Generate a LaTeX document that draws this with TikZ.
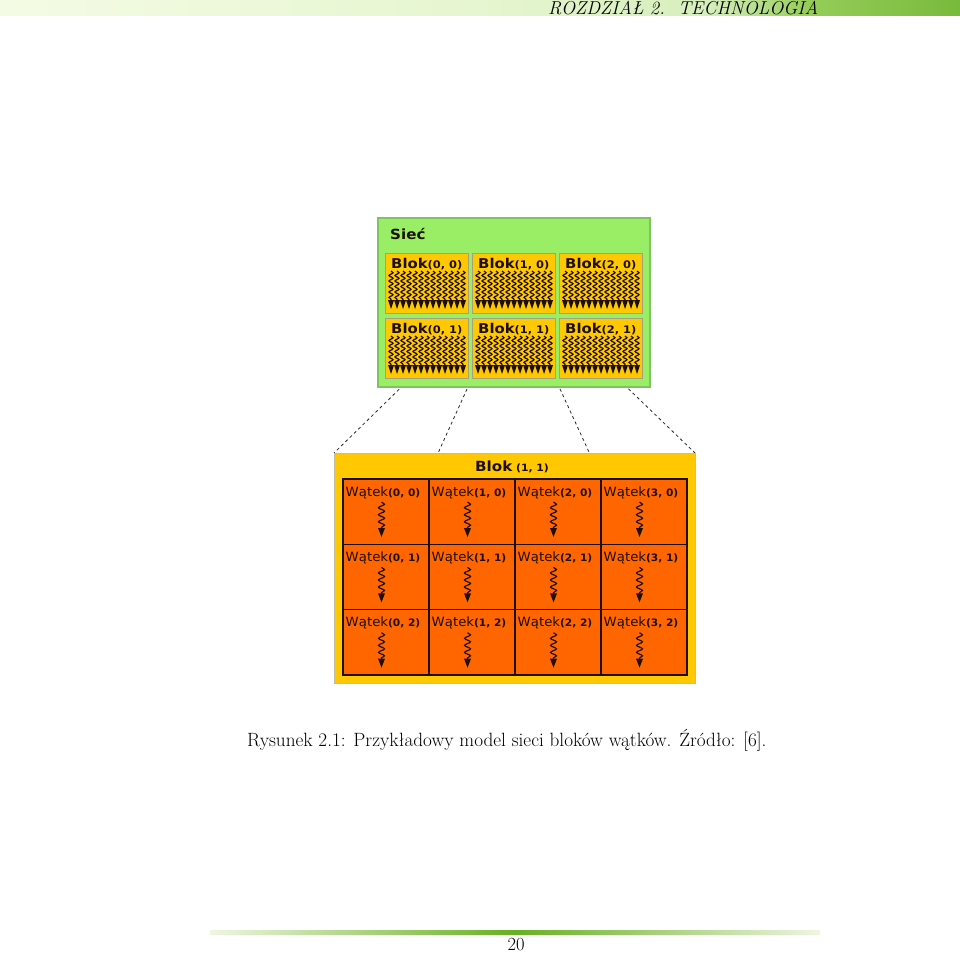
\documentclass[tikz,border=0pt]{standalone}
\usepackage{fontspec}
\newfontfamily\dvs{DejaVu Sans}
\usetikzlibrary{decorations.pathmorphing,calc}
\definecolor{gridgreen}{RGB}{153,238,102}
\definecolor{gridedge}{RGB}{125,195,95}
\definecolor{blkyel}{RGB}{255,200,0}
\definecolor{blkedge}{RGB}{165,160,125}
\definecolor{throrange}{RGB}{255,102,0}
\definecolor{txtdark}{RGB}{30,15,0}
\definecolor{hA}{RGB}{244,251,228}
\definecolor{hB}{RGB}{230,246,208}
\definecolor{hC}{RGB}{214,238,188}
\definecolor{hD}{RGB}{150,205,90}
\definecolor{hE}{RGB}{120,186,60}
\definecolor{fP}{RGB}{238,246,224}
\definecolor{fG}{RGB}{104,176,34}
\pgfdeclarehorizontalshading{headband}{100bp}{color(0bp)=(hA); color(25bp)=(hA); color(50bp)=(hB); color(62bp)=(hC); color(67bp)=(hD); color(75bp)=(hE); color(100bp)=(hE)}
\pgfdeclarehorizontalshading{footrule}{100bp}{color(0bp)=(fP); color(25bp)=(fP); color(50bp)=(fG); color(75bp)=(fP); color(100bp)=(fP)}
\pgfdeclarelayer{bg}
\pgfsetlayers{bg,main}
\begin{document}
\begin{tikzpicture}[x=1pt,y=-1pt,
  gridbox/.style={draw=gridedge, fill=gridgreen, line width=1.2pt, anchor=north west, inner sep=0pt, outer sep=0pt, minimum width=272pt, minimum height=169pt},
  blockbox/.style={draw=blkedge, fill=blkyel, line width=1pt, anchor=north west, inner sep=0pt, outer sep=0pt, minimum width=83pt, minimum height=60pt},
  bigbox/.style={draw=blkedge!70, fill=blkyel, line width=1pt, anchor=north west, inner sep=0pt, outer sep=0pt, minimum width=361pt, minimum height=230pt},
  cellbox/.style={draw=txtdark, fill=throrange, line width=1.4pt, anchor=north west, inner sep=0pt, outer sep=0pt, minimum width=86pt, minimum height=65.33pt},
  dtxt/.style={inner sep=0pt, text=txtdark, anchor=base west},
  snakeline/.style={draw=txtdark, line width=1.2pt, decorate, decoration={snake, amplitude=2pt, segment length=5.5pt}},
  zoomline/.style={draw=black!85, line width=0.8pt, dash pattern=on 3pt off 3pt},
  serif/.style={inner sep=0pt, text=black}
]
\useasboundingbox (0,0) rectangle (960,958);
% header
\shade[shading=headband] (0,0) rectangle (960,15.5);
\node[serif, anchor=base west, font=\fontsize{18.7}{18.7}\selectfont\itshape] (hdr) at (548,15) {ROZDZIAŁ 2.\ \ TECHNOLOGIA};
% grid
\node[gridbox] (grid) at (378,218) {};
\node[dtxt, font=\dvs\bfseries\fontsize{14}{14}\selectfont] (gridlabel) at (390,239) {\scalebox{1.08}[1]{Sieć}};
\foreach \ci/\xx in {0/385,1/472,2/559} {
  \foreach \ri/\yy in {0/253,1/318} {
    \node[blockbox] (b\ci\ri) at (\xx,\yy) {};
    \node[dtxt, font=\dvs\bfseries] (bl\ci\ri) at ($(b\ci\ri.north west)+(6,15)$) {\scalebox{1.1}[1]{{\fontsize{13.5}{13.5}\selectfont Blok}{\fontsize{10.4}{10.4}\selectfont(\ci, \ri)}}};
    \foreach \k in {0,...,12} {
      \draw[snakeline] ($(b\ci\ri.north west)+(6+6*\k,18)$) -- ($(b\ci\ri.north west)+(6+6*\k,47)$);
      \fill[txtdark] ($(b\ci\ri.north west)+(3+6*\k,47)$) -- ++(6,0) -- ++(-3,9) -- cycle;
    }
  }
}
% big block
\node[bigbox] (big) at (334,453) {};
\node[dtxt, font=\dvs\bfseries] (biglabel) at (475,471) {\scalebox{1.08}[1]{{\fontsize{14}{14}\selectfont Blok} {\fontsize{10}{10}\selectfont(1, 1)}}};
\foreach \ci in {0,...,3} {
  \foreach \ri in {0,...,2} {
    \node[cellbox] (t\ci\ri) at ({343+86*\ci},{479+65.33*\ri}) {};
    \node[dtxt] (tl\ci\ri) at ($(t\ci\ri.north west)+(2.5,17)$) {\scalebox{1.04}[1]{{\dvs\fontsize{12.8}{12.8}\selectfont Wątek}{\dvs\bfseries\fontsize{10.2}{10.2}\selectfont(\ci, \ri)}}};
    \draw[snakeline, decoration={snake, amplitude=3pt, segment length=7pt}] ($(t\ci\ri.north west)+(38.5,23)$) -- ($(t\ci\ri.north west)+(38.5,50)$);
    \fill[txtdark] ($(t\ci\ri.north west)+(35,49)$) -- ++(7,0) -- ++(-3.5,9) -- cycle;
  }
}
% zoom lines behind
\begin{pgfonlayer}{bg}
\draw[zoomline] (b11.north west) -- (big.north west);
\draw[zoomline] (b11.north east) -- (big.north east);
\draw[zoomline] (b11.south west) -- (big.south west);
\draw[zoomline] (b11.south east) -- (big.south east);
\end{pgfonlayer}
% caption
\node[serif, anchor=base west, font=\fontsize{19.2}{19.2}\selectfont] (cap) at (247,746) {Rysunek 2.1: Przykładowy model sieci bloków wątków. Źródło: [6].};
% footer
\shade[shading=footrule] (210,930) rectangle (820,934);
\node[serif, anchor=base, font=\fontsize{18.5}{18.5}\selectfont] (pg) at (516,950) {20};
\end{tikzpicture}
\end{document}
